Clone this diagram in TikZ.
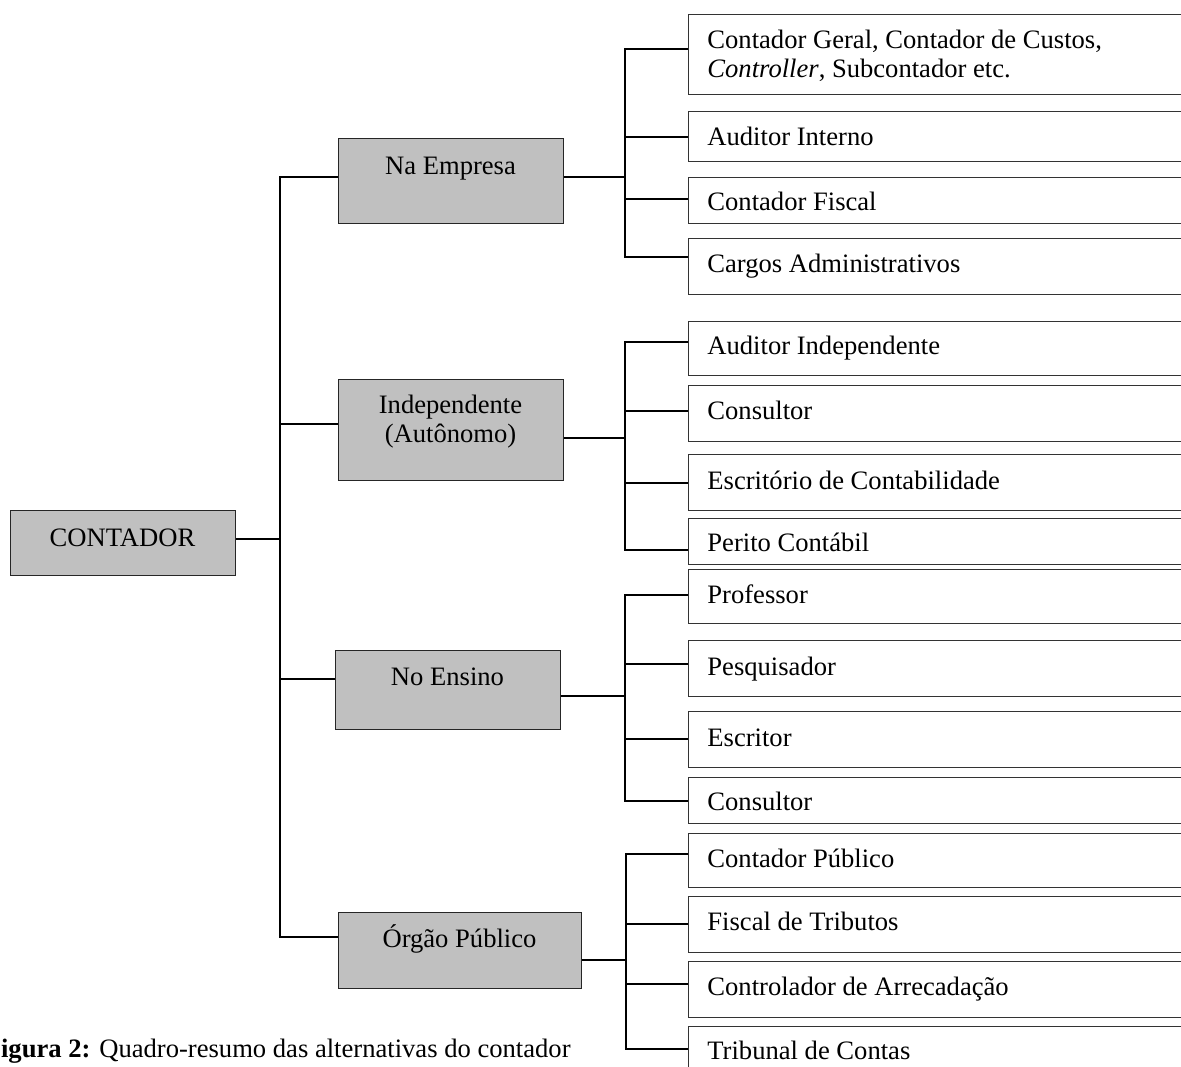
\documentclass[tikz,border=0pt]{standalone}
\usepackage{fontspec}
\setmainfont{Liberation Serif}
\definecolor{boxgray}{HTML}{C0C0C0}
\newcommand\childbox[5]{% name, top, bottom, baseline, text
  \node[cbox, minimum height={(#3-#2)*0.5pt}] (#1) at (688,#2) {};
  \node[lbl] (#1t) at (707,#4) {#5};}
\newcommand\groupbox[5]{% name, left, right, top, bottom
  \node[gbox, minimum width={(#3-#2)*0.5pt}, minimum height={(#5-#4)*0.5pt}] (#1) at (#2,#4) {};}
\begin{document}
\begin{tikzpicture}[x=0.5pt,y=-0.5pt,
  font=\fontsize{13.3}{14.75}\selectfont,
  gbox/.style={draw=black!85, fill=boxgray, line width=0.6pt, inner sep=0, anchor=north west},
  cbox/.style={draw=black!80, line width=0.6pt, inner sep=0, anchor=north west, minimum width=262pt},
  lbl/.style={inner sep=0, anchor=base west},
  glbl/.style={inner sep=0, anchor=base},
  conn/.style={line width=0.8pt, black}]
\useasboundingbox (0,0) rectangle (1181,1066);

% root
\groupbox{root}{10}{235}{510}{575}
\node[glbl] (roott) at (122.5,546) {CONTADOR};

% group boxes
\groupbox{g1}{338}{563}{138}{223}
\node[glbl] (g1t) at (450.5,174) {Na Empresa};
\groupbox{g2}{338}{563}{379}{480}
\node[glbl] (g2t) at (450.5,413) {\begin{tabular}[t]{@{}c@{}}Independente\\(Autônomo)\end{tabular}};
\groupbox{g3}{335}{560}{650}{729}
\node[glbl] (g3t) at (447.5,685) {No Ensino};
\groupbox{g4}{338}{581}{912}{988}
\node[glbl] (g4t) at (459.5,947) {Órgão Público};

% children group 1
\childbox{c11}{14}{94}{48}{\begin{tabular}[t]{@{}l@{}}Contador Geral, Contador de Custos,\\\textit{Controller}, Subcontador etc.\end{tabular}}
\childbox{c12}{111}{161}{145}{Auditor Interno}
\childbox{c13}{177}{223}{210}{Contador Fiscal}
\childbox{c14}{238}{294}{272}{Cargos Administrativos}
% children group 2
\childbox{c21}{321}{375}{354}{Auditor Independente}
\childbox{c22}{385}{441}{419}{Consultor}
\childbox{c23}{454}{510}{489}{Escritório de Contabilidade}
\childbox{c24}{518}{564}{551}{Perito Contábil}
% children group 3
\childbox{c31}{569}{623}{603}{Professor}
\childbox{c32}{640}{696}{675}{Pesquisador}
\childbox{c33}{711}{767}{746}{Escritor}
\childbox{c34}{777}{823}{810}{Consultor}
% children group 4
\childbox{c41}{833}{887}{867}{Contador Público}
\childbox{c42}{896}{952}{930}{Fiscal de Tributos}
\childbox{c43}{961}{1017}{995}{Controlador de Arrecadação}
\childbox{c44}{1026}{1080}{1059}{Tribunal de Contas}

% main trunk
\coordinate (rj) at (280,539);
\coordinate (tr1) at (280,177);
\coordinate (tr2) at (280,424);
\coordinate (tr3) at (280,679);
\coordinate (tr4) at (280,937);
\draw[conn] (rj -| root.east) -- (rj);
\draw[conn] (tr1 -| g1.west) -- (tr1) -- (tr4) -- (tr4 -| g4.west);
\draw[conn] (tr2) -- (tr2 -| g2.west);
\draw[conn] (tr3) -- (tr3 -| g3.west);

% group junctions
\coordinate (j1) at (625,177);
\coordinate (j2) at (625,438);
\coordinate (j3) at (625,696);
\coordinate (j4) at (626,960);
\draw[conn] (j1 -| g1.east) -- (j1);
\draw[conn] (j2 -| g2.east) -- (j2);
\draw[conn] (j3 -| g3.east) -- (j3);
\draw[conn] (j4 -| g4.east) -- (j4);

% branches
\foreach \g/\x/\ya/\yb/\yc/\yd in {1/625/49/137/199/257, 2/625/342/411/483/550, 3/625/595/664/739/801, 4/626/854/924/984/1049}{
  \coordinate (b\g1) at (\x,\ya);
  \coordinate (b\g2) at (\x,\yb);
  \coordinate (b\g3) at (\x,\yc);
  \coordinate (b\g4) at (\x,\yd);
  \draw[conn] (b\g1 -| c\g1.west) -- (b\g1) -- (b\g4) -- (b\g4 -| c\g4.west);
  \draw[conn] (b\g2) -- (b\g2 -| c\g2.west);
  \draw[conn] (b\g3) -- (b\g3 -| c\g3.west);
}

% caption
\node[inner sep=0, anchor=base east] (cap) at (571,1057) {\textbf{Figura 2:} Quadro-resumo das alternativas do contador};
\end{tikzpicture}
\end{document}
